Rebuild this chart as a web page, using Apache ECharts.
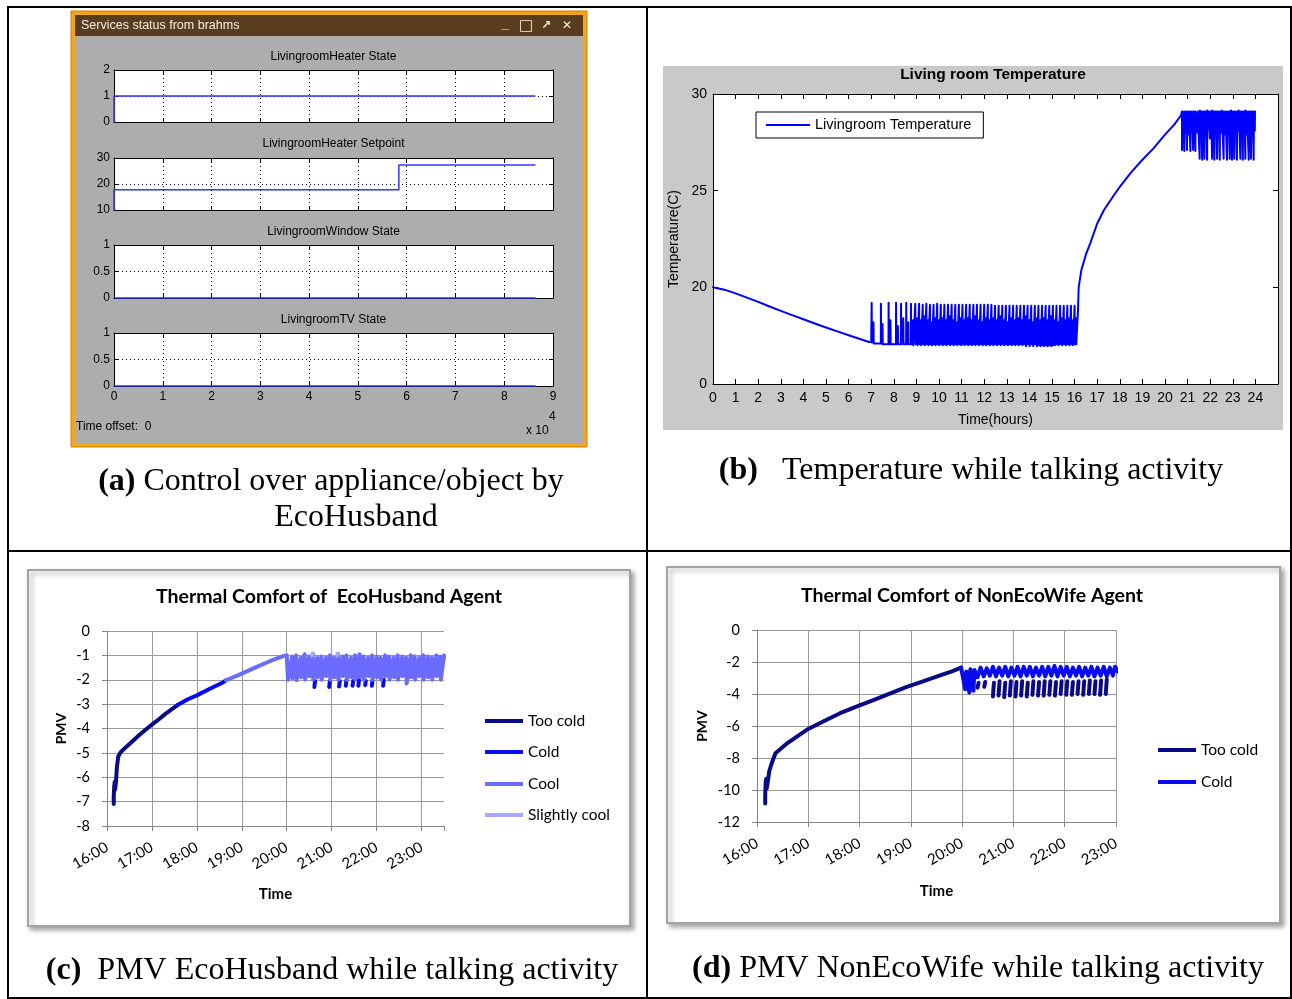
<!DOCTYPE html>
<html><head><meta charset="utf-8">
<script src="https://cdn.jsdelivr.net/npm/echarts@6/dist/echarts.min.js"></script>
<style>html,body{margin:0;padding:0;background:#fff}#c{width:1292px;height:999px}</style>
</head><body><div id="c"></div>
<script>
// ===================== DATA =====================
// (a) Services status from brahms  (x in units of 10^4 s)
const aTitles = ['LivingroomHeater State','LivingroomHeater Setpoint','LivingroomWindow State','LivingroomTV State'];
const aXTickLabels = ['0','1','2','3','4','5','6','7','8','9'];
const heaterState    = [[0,0],[0,1],[8.63,1]];
const heaterSetpoint = [[0,10],[0,17.8],[5.84,17.8],[5.84,27.3],[8.63,27.3]];
const windowState    = [[0,0],[8.63,0]];
const tvState        = [[0,0],[8.63,0]];

// (b) Living room Temperature (hours, deg C)
const bYTickLabels = ['0','20','25','30'];           // drawn at 15,20,25,30
const bDecline = [[0,20.0],[0.5,19.88],[1,19.69],[1.5,19.47],[2,19.25],[2.5,19.01],[3,18.78],[3.5,18.56],[4,18.35],[4.5,18.13],[5,17.92],[5.5,17.72],[6,17.52],[6.5,17.33],[6.9,17.17],[7.0,17.17]];
// [time, peak, trough] of the heating spikes 7h-16h
const bMidSpikes = [
[7.02,19.2,17.15],[7.1,18.2,17.1],[7.43,19.15,17.1],[7.5,18.1,17.05],[7.77,19.2,17.05],[7.85,18.3,17.05],[8.1,19.2,17.05],[8.18,18.0,17.05],[8.32,19.15,17.05],[8.42,18.4,17.05],[8.55,19.2,17.05],[8.64,18.2,17.05],[8.76,19.15,17.05],[8.85,18.3,17.0],[8.95,19.15,17.05],
[9.04,18.4,17.0],[9.12,19.15,17.05],[9.2,18.3,17.0],[9.28,19.1,17.05],[9.36,18.5,17.0],[9.44,19.15,17.05],[9.52,18.3,17.0],[9.6,19.1,17.05],[9.68,18.2,17.0],[9.76,19.1,17.05],[9.84,18.4,17.0],[9.92,19.15,17.05],[10.0,18.3,17.0],[10.08,19.1,17.05],[10.16,18.4,17.0],[10.24,19.1,17.05],[10.32,18.3,17.0],[10.4,19.1,17.05],[10.48,18.5,17.0],[10.56,19.1,17.05],[10.64,18.3,17.0],[10.72,19.1,17.05],[10.8,18.2,17.0],[10.88,19.1,17.05],[10.96,18.4,17.0],[11.04,19.1,17.05],[11.12,18.3,17.0],[11.2,19.1,17.05],[11.28,18.4,17.0],[11.36,19.1,17.05],[11.44,18.3,17.0],[11.52,19.1,17.05],[11.6,18.5,17.0],[11.68,19.1,17.05],[11.76,18.3,17.0],[11.84,19.1,17.05],[11.92,18.2,17.0],[12.0,19.1,17.05],[12.08,18.4,17.0],[12.16,19.1,17.05],[12.24,18.3,17.0],[12.32,19.1,17.05],[12.4,18.4,17.0],[12.48,19.05,17.05],[12.56,18.3,17.0],[12.64,19.05,17.05],[12.72,18.5,17.0],[12.8,19.05,17.05],[12.88,18.3,17.0],[12.96,19.05,17.05],[13.04,18.2,17.0],[13.12,19.05,17.05],[13.2,18.4,17.0],[13.28,19.05,17.05],[13.36,18.3,17.0],[13.44,19.05,17.05],[13.52,18.4,17.0],[13.6,19.05,17.05],[13.68,18.3,17.0],[13.76,19.05,17.05],[13.84,18.5,16.95],[13.92,19.05,17.05],[14.0,18.3,16.95],[14.08,19.05,17.05],[14.16,18.2,16.95],[14.24,19.05,17.05],[14.32,18.4,16.95],[14.4,19.05,17.0],[14.48,18.3,16.95],[14.56,19.05,17.0],[14.64,18.4,16.95],[14.72,19.05,17.0],[14.8,18.3,16.95],[14.88,19.05,17.0],[14.96,18.5,16.95],[15.04,19.05,17.0],[15.12,18.3,17.0],[15.2,19.05,17.05],[15.28,18.2,17.0],[15.36,19.05,17.05],[15.44,18.4,17.0],[15.52,19.05,17.05],[15.6,18.3,17.0],[15.68,19.05,17.05],[15.76,18.4,17.0],[15.84,19.05,17.05],[15.92,18.3,17.0],[16.0,19.05,17.05],[16.06,18.4,17.05]];
const bRise = [[16.12,17.1],[16.15,18.8],[16.18,20.0],[16.3,20.9],[16.5,21.7],[16.7,22.3],[17.0,23.3],[17.3,24.0],[17.7,24.7],[18.0,25.2],[18.5,25.95],[19.0,26.6],[19.5,27.2],[20.0,27.9],[20.4,28.4],[20.71,28.9]];
// [time, top, low] of the cooling dips 20.7h-24h
const bTopSpikes = [
[20.75,29.1,27.1],[20.8,29.05,27.9],[20.85,29.1,27.05],[20.91,29.1,28.0],[20.97,29.1,27.1],[21.05,29.1,27.9],[21.12,29.1,27.05],[21.18,29.1,28.1],[21.24,29.1,27.1],[21.29,29.1,27.8],[21.34,29.1,27.05],[21.44,29.1,28.0],[21.53,29.15,26.65],[21.59,29.1,27.9],[21.64,29.1,26.6],[21.69,29.1,28.1],[21.74,29.1,26.65],[21.8,29.1,27.8],[21.86,29.15,26.6],[21.92,29.1,28.2],[21.98,29.1,27.7],[22.03,29.1,28.0],[22.08,29.15,26.65],[22.13,29.1,27.9],[22.18,29.1,26.6],[22.24,29.1,28.1],[22.3,29.1,26.65],[22.36,29.1,27.8],[22.42,29.1,26.6],[22.5,29.15,28.0],[22.59,29.1,26.65],[22.66,29.1,27.9],[22.74,29.1,26.6],[22.8,29.1,28.1],[22.86,29.1,26.65],[22.91,29.15,27.8],[22.96,29.1,26.6],[23.01,29.1,28.0],[23.06,29.1,26.65],[23.12,29.1,27.9],[23.18,29.1,26.6],[23.25,29.15,28.1],[23.33,29.1,26.65],[23.39,29.1,27.8],[23.44,29.1,26.6],[23.5,29.1,28.0],[23.55,29.15,26.65],[23.62,29.1,27.9],[23.7,29.1,26.6],[23.75,29.1,28.1],[23.8,29.1,26.65],[23.86,29.1,27.8],[23.92,29.1,26.6],[23.97,29.1,28.1]];

// (c) / (d) shared time tick labels
const timeLabels = ['16:00','17:00','18:00','19:00','20:00','21:00','22:00','23:00'];

// (c) Thermal Comfort of EcoHusband Agent  (hours, PMV)
const cTooCold = [[16.15,-7.1],[16.15,-6.8],[16.16,-6.4],[16.17,-6.2],[16.18,-6.5],[16.19,-6.45],[16.2,-6.2],[16.22,-5.6],[16.25,-5.15],[16.3,-4.98],[16.4,-4.8],[16.55,-4.55],[16.7,-4.3],[16.89,-4.0],[17.1,-3.7],[17.3,-3.4],[17.56,-3.05]];
const cCold = [[17.56,-3.05],[17.8,-2.8],[18.0,-2.64],[18.3,-2.36],[18.59,-2.1],[18.65,-2.02]];
const cColdDashes = [[20.63,-2.05,-2.3],[20.96,-2.05,-2.3],[21.18,-2.05,-2.28],[21.33,-2.0,-2.25],[21.48,-2.05,-2.25],[21.61,-2.0,-2.25],[21.76,-2.05,-2.22],[21.91,-2.0,-2.25],[22.16,-2.0,-2.25]];
const cCool = [[18.65,-2.02],[19.0,-1.75],[19.33,-1.47],[19.65,-1.22],[19.92,-1.03],[20.0,-1.0]];
// [time, top, bottom] of the sawtooth after 20:00
const cCoolOsc = [[20.02,-1.0,-2.0],[20.12,-1.05,-1.95],[20.21,-1.0,-2.02],[20.31,-1.1,-1.9],[20.4,-0.95,-2.0],[20.5,-1.05,-1.85],[20.58,-0.93,-2.0],[20.68,-1.1,-1.9],[20.77,-1.05,-2.0],[20.87,-1.1,-1.85],[20.96,-1.0,-2.0],[21.05,-1.1,-1.9],[21.14,-0.93,-2.0],[21.24,-1.05,-1.85],[21.33,-1.0,-2.0],[21.43,-1.1,-1.9],[21.52,-1.0,-2.0],[21.62,-0.95,-1.9],[21.71,-1.05,-2.0],[21.81,-1.1,-1.85],[21.9,-1.0,-2.0],[22.0,-1.05,-1.9],[22.09,-1.1,-2.0],[22.19,-1.0,-1.85],[22.28,-1.05,-2.0],[22.38,-1.1,-1.9],[22.47,-1.0,-2.0],[22.57,-1.05,-1.85],[22.66,-1.1,-2.15],[22.76,-1.0,-1.9],[22.85,-1.05,-2.0],[22.95,-1.1,-1.85],[23.04,-1.0,-2.0],[23.14,-1.05,-1.9],[23.23,-1.1,-2.0],[23.33,-1.0,-1.85],[23.42,-1.05,-2.0],[23.5,-1.0,-1.1]];
const cSlightlyCool = [[20.56,-1.0],[20.58,-0.93],[20.6,-1.0],[21.12,-1.0],[21.14,-0.93],[21.16,-1.0]];

// (d) Thermal Comfort of NonEcoWife Agent
const dTooCold = [[16.16,-10.85],[16.16,-10.3],[16.17,-9.5],[16.18,-9.3],[16.19,-9.9],[16.2,-9.8],[16.21,-9.5],[16.24,-8.8],[16.29,-8.3],[16.36,-7.7],[16.6,-7.05],[16.97,-6.24],[17.3,-5.7],[17.62,-5.2],[17.95,-4.78],[18.27,-4.38],[18.6,-3.96],[18.92,-3.55],[19.25,-3.2],[19.57,-2.83],[19.8,-2.58],[19.98,-2.35]];
// [time, top, bottom] of the lower dashes
const dTooColdDashes = [[20.32,-3.3,-3.6],[20.45,-3.25,-3.55],[20.62,-3.3,-4.15],[20.73,-3.2,-4.1],[20.84,-3.3,-4.2],[20.95,-3.2,-4.1],[21.06,-3.25,-4.15],[21.17,-3.2,-4.1],[21.28,-3.3,-4.15],[21.39,-3.2,-4.05],[21.5,-3.25,-4.1],[21.61,-3.2,-4.1],[21.72,-3.2,-4.05],[21.83,-3.25,-4.1],[21.94,-3.2,-4.0],[22.05,-3.2,-4.05],[22.16,-3.25,-4.05],[22.27,-3.2,-4.0],[22.38,-3.2,-4.05],[22.49,-3.15,-4.0],[22.6,-3.2,-4.0],[22.71,-3.15,-4.05],[22.82,-3.1,-4.0]];
// [time, peak, trough] of the upper oscillation
const dColdOsc = [[20.0,-2.35,-3.7],[20.08,-2.6,-3.9],[20.16,-2.45,-3.8],[20.24,-2.5,-2.95],[20.36,-2.35,-2.9],[20.48,-2.4,-2.85],[20.6,-2.3,-2.9],[20.72,-2.35,-2.85],[20.84,-2.3,-2.9],[20.96,-2.35,-2.85],[21.08,-2.3,-2.9],[21.2,-2.3,-2.85],[21.32,-2.3,-2.9],[21.44,-2.35,-2.85],[21.56,-2.3,-2.9],[21.68,-2.3,-2.85],[21.8,-2.25,-2.9],[21.92,-2.3,-2.85],[22.04,-2.3,-2.9],[22.16,-2.35,-2.85],[22.28,-2.3,-2.9],[22.4,-2.35,-2.85],[22.52,-2.3,-2.9],[22.64,-2.35,-2.85],[22.76,-2.3,-2.9],[22.88,-2.35,-2.85],[22.98,-2.3,-2.6]];

// ===================== BUILD =====================
const SANS = '"Liberation Sans", Arial, sans-serif';
const SERIF = '"Liberation Serif", "Times New Roman", serif';
const XL = 'Lato, "Open Sans", sans-serif';
const GAP = '-';

const bData = bDecline.slice();
let prevLo = bDecline[bDecline.length-1][1];
bMidSpikes.forEach(([t,hi,lo]) => { bData.push([t-0.004, prevLo],[t, hi],[t+0.012, lo]); prevLo = lo; });
bRise.forEach(p => bData.push(p));
bTopSpikes.forEach(([t,top,low]) => { bData.push([t, top],[t+0.004, low],[t+0.012, top]); });

const cColdData = cCold.slice(); cColdData.push([18.66, GAP]);
cColdDashes.forEach(([t,a,b]) => { cColdData.push([t,a],[t-0.015,b],[t,GAP]); });
const cCoolData = cCool.slice();
cCoolOsc.forEach(([t,a,b]) => { cCoolData.push([t,a],[t+0.008,b]); });
const cSlightData = [];
for (let i=0;i<cSlightlyCool.length;i+=3){ cSlightData.push(cSlightlyCool[i],cSlightlyCool[i+1],cSlightlyCool[i+2],[cSlightlyCool[i+2][0],GAP]); }

const dTooData = dTooCold.slice(); dTooData.push([19.99, GAP]);
dTooColdDashes.forEach(([t,a,b]) => { dTooData.push([t,a],[t-0.02,b],[t,GAP]); });
const dColdData = [[19.98,-2.35]];
dColdOsc.forEach(([t,a,b]) => { dColdData.push([t,a],[t+0.06,b]); });

// ---------- grids ----------
const grids = [
  {left:114, top:70,  width:439, height:52},
  {left:114, top:158, width:439, height:52},
  {left:114, top:245, width:439, height:53},
  {left:114, top:333, width:439, height:53},
  {left:713, top:94,  width:565, height:290},
  {left:107, top:631, width:337, height:195},
  {left:757, top:630, width:359, height:192}
].map((g,i)=>Object.assign(g,{containLabel:false, outerBoundsMode:'none', show:i<5, backgroundColor:'#fff', borderWidth:0}));

const xAxes = [], yAxes = [];
const aY = [{min:0,max:2,interval:1},{min:10,max:30,interval:10},{min:0,max:1,interval:0.5},{min:0,max:1,interval:0.5}];
const blackLine = {show:true, onZero:false, lineStyle:{color:'#000', width:1}};
const dotted = {color:'#000', width:1, type:[1,3]};
for (let i=0;i<4;i++){
  xAxes.push({type:'value', gridIndex:i, position:'bottom', min:0, max:9, interval:1, axisLine:blackLine,
    axisTick:{show:true, inside:true, length:4, lineStyle:{color:'#000'}},
    axisLabel:{show:i===3, color:'#000', fontFamily:SANS, fontSize:12, margin:5, formatter:v=>aXTickLabels[Math.round(v)]},
    splitLine:{show:true, showMinLine:false, showMaxLine:false, lineStyle:dotted}});
  xAxes.push({type:'value', gridIndex:i, position:'top', min:0, max:9, interval:1, axisLine:blackLine,
    axisTick:{show:true, inside:true, length:4, lineStyle:{color:'#000'}}, axisLabel:{show:false}, splitLine:{show:false}});
  yAxes.push(Object.assign({type:'value', gridIndex:i, position:'left', axisLine:blackLine,
    axisTick:{show:true, inside:true, length:4, lineStyle:{color:'#000'}},
    axisLabel:{show:true, color:'#000', fontFamily:SANS, fontSize:12, margin:4},
    splitLine:{show:true, showMinLine:false, showMaxLine:false, lineStyle:dotted}}, aY[i]));
  yAxes.push(Object.assign({type:'value', gridIndex:i, position:'right', axisLine:blackLine,
    axisTick:{show:true, inside:true, length:4, lineStyle:{color:'#000'}}, axisLabel:{show:false}, splitLine:{show:false}}, aY[i]));
}
// (b) axes: x 8 bottom, 9 top ; y 8 left, 9 right
xAxes.push({type:'value', gridIndex:4, position:'bottom', min:0, max:25, interval:1, axisLine:blackLine,
  axisTick:{show:true, inside:true, length:5, lineStyle:{color:'#000'}},
  axisLabel:{color:'#000', fontFamily:SANS, fontSize:14, margin:7, showMaxLabel:true, formatter:v=>v<=24?String(v):''},
  splitLine:{show:false}, name:'Time(hours)', nameLocation:'middle', nameGap:29,
  nameTextStyle:{color:'#000', fontFamily:SANS, fontSize:14}});
xAxes.push({type:'value', gridIndex:4, position:'top', min:0, max:25, interval:1, axisLine:blackLine,
  axisTick:{show:true, inside:true, length:5, lineStyle:{color:'#000'}}, axisLabel:{show:false}, splitLine:{show:false}});
yAxes.push({type:'value', gridIndex:4, position:'left', min:15, max:30, interval:5, axisLine:blackLine,
  axisTick:{show:true, inside:true, length:5, lineStyle:{color:'#000'}},
  axisLabel:{color:'#000', fontFamily:SANS, fontSize:14, margin:6, formatter:v=>bYTickLabels[Math.round((v-15)/5)]},
  splitLine:{show:false}, name:'Temperature(C)', nameLocation:'middle', nameGap:32,
  nameTextStyle:{color:'#000', fontFamily:SANS, fontSize:14}});
yAxes.push({type:'value', gridIndex:4, position:'right', min:15, max:30, interval:5, axisLine:blackLine,
  axisTick:{show:true, inside:true, length:5, lineStyle:{color:'#000'}}, axisLabel:{show:false}, splitLine:{show:false}});
// (c) & (d) Excel style axes
const xlGrid = {color:'#9a9a9a', width:1};
const xlAxisLine = {show:true, onZero:false, lineStyle:{color:'#868686', width:1}};
function xlX(gi, max, gap){
  return {type:'value', gridIndex:gi, position:'bottom', min:16, max:max, interval:1, axisLine:xlAxisLine,
    axisTick:{show:true, inside:false, length:5, lineStyle:{color:'#868686'}},
    axisLabel:{color:'#000', fontFamily:XL, fontSize:15, margin:20, rotate:30, showMaxLabel:true,
      formatter:v=>Number.isInteger(v)?timeLabels[v-16]:''},
    splitLine:{show:true, showMinLine:false, showMaxLine:max===23, lineStyle:xlGrid},
    name:'Time', nameLocation:'middle', nameGap:gap, nameTextStyle:{color:'#000', fontFamily:XL, fontSize:15, fontWeight:'bold'}};
}
function xlY(gi, min, interval, gap){
  return {type:'value', gridIndex:gi, position:'left', min:min, max:0, interval:interval, axisLine:xlAxisLine,
    axisTick:{show:true, inside:false, length:5, lineStyle:{color:'#868686'}},
    axisLabel:{color:'#000', fontFamily:XL, fontSize:14.5, margin:17},
    splitLine:{show:true, lineStyle:xlGrid},
    name:'PMV', nameLocation:'middle', nameGap:gap, nameTextStyle:{color:'#000', fontFamily:XL, fontSize:14, fontWeight:'bold'}};
}
xAxes.push(xlX(5, 23.5, 61)); yAxes.push(xlY(5, -8, 1, 39));
xAxes.push(xlX(6, 23, 62));   yAxes.push(xlY(6, -12, 2, 48));

// ---------- series ----------
const C_TOO='#0a0a85', C_COLD='#0a0aee', C_COOL='#6b6bff', C_SLIGHT='#a9a9ff';
function ln(name, data, xi, yi, color, width){
  return {type:'line', name, data, xAxisIndex:xi, yAxisIndex:yi, symbol:'none', showSymbol:false, animation:false,
    color, itemStyle:{color}, lineStyle:{color, width, cap:'round', join:'round'}, connectNulls:false, silent:true};
}
const series = [
  ln('Heater State', heaterState, 0, 0, '#3535ff', 1.5),
  ln('Heater Setpoint', heaterSetpoint, 2, 2, '#3535ff', 1.5),
  ln('Window State', windowState, 4, 4, '#3535ff', 1.5),
  ln('TV State', tvState, 6, 6, '#3535ff', 1.5),
  ln('Livingroom Temperature', bData, 8, 8, '#0000ff', 2),
  ln('Too cold', cTooCold, 10, 10, C_TOO, 4),
  ln('Cold', cColdData, 10, 10, C_COLD, 4),
  ln('Cool', cCoolData, 10, 10, C_COOL, 4),
  ln('Slightly cool', cSlightData, 10, 10, C_SLIGHT, 4),
  ln('Too cold', dTooData, 11, 11, C_TOO, 4),
  ln('Cold', dColdData, 11, 11, C_COLD, 4)
];

// ---------- legends ----------
function lg(name, left, top, w, h, extra){
  return Object.assign({data:[name], left, top, orient:'horizontal', icon:'rect', itemWidth:w, itemHeight:h, padding:0,
    selectedMode:false, textStyle:{color:'#000', fontFamily:XL, fontSize:15.5, lineHeight:18}}, extra||{});
}
const legends = [
  lg('Livingroom Temperature', 756, 112, 44, 2, {padding:[4,12,4,10], borderColor:'#000', borderWidth:1, backgroundColor:'#fff',
     textStyle:{color:'#000', fontFamily:SANS, fontSize:14.5, lineHeight:18}}),
  lg('Too cold', 485, 712, 38, 4), lg('Cold', 485, 743, 38, 4), lg('Cool', 485, 775, 38, 4), lg('Slightly cool', 485, 806, 38, 4),
  lg('Too cold', 1158, 741, 38, 4), lg('Cold', 1158, 773, 38, 4)
];

// ---------- graphic (frames, titles, captions) ----------
const G = [];
function txt(t, x, y, o){ return {type:'text', z:10, style:Object.assign({text:t, x, y, fill:'#000', fontFamily:SANS, fontSize:12,
  textAlign:'left', align:'left', textVerticalAlign:'middle', verticalAlign:'middle'}, o||{})}; }
const ctr = {textAlign:'center', align:'center'};
// table lines
G.push({type:'rect', z:-10, shape:{x:8,y:7,width:1283,height:991}, style:{fill:'none', stroke:'#000', lineWidth:2}});
G.push({type:'line', z:-10, shape:{x1:647,y1:7,x2:647,y2:998}, style:{stroke:'#000', lineWidth:2}});
G.push({type:'line', z:-10, shape:{x1:8,y1:551,x2:1291,y2:551}, style:{stroke:'#000', lineWidth:2}});
// (a) window
G.push({type:'rect', z:-10, shape:{x:71,y:11,width:516,height:436}, style:{fill:'#f3a51d', stroke:'#c98300', lineWidth:1}});
G.push({type:'rect', z:-9, shape:{x:75,y:15,width:508,height:428}, style:{fill:'#adadad'}});
G.push({type:'rect', z:-9, shape:{x:75,y:15,width:508,height:21}, style:{fill:'#5a3c1f'}});
G.push(txt('Services status from brahms', 81, 26, {fill:'#f2f0e6', fontSize:12.5}));
G.push(txt('_', 505, 24, Object.assign({fill:'#f2f0e6', fontSize:13, fontWeight:'bold'}, ctr)));
G.push(txt('□', 526, 26, Object.assign({fill:'#f2f0e6', fontSize:15, fontFamily:'"DejaVu Sans"'}, ctr)));
G.push(txt('↗', 546, 26, Object.assign({fill:'#f2f0e6', fontSize:12, fontWeight:'bold', fontFamily:'"DejaVu Sans"'}, ctr)));
G.push(txt('✕', 567, 26, Object.assign({fill:'#f2f0e6', fontSize:12, fontWeight:'bold', fontFamily:'"DejaVu Sans"'}, ctr)));
[57,144,232,320].forEach((y,i)=>G.push(txt(aTitles[i], 333.5, y, ctr)));
G.push(txt('Time offset:  0', 76, 427));
G.push(txt('x 10', 526, 431));
G.push(txt('4', 549, 417));
// (b) background and title
G.push({type:'rect', z:-10, shape:{x:663,y:66,width:620,height:364}, style:{fill:'#c9c9c9'}});
G.push(txt('Living room Temperature', 993, 75, Object.assign({fontSize:15.5, fontWeight:'bold'}, ctr)));
// (c),(d) Excel chart frames
const shadow = {shadowBlur:5, shadowColor:'rgba(0,0,0,0.35)', shadowOffsetX:3, shadowOffsetY:3};
G.push({type:'rect', z:-9, shape:{x:28,y:570,width:602,height:356}, style:Object.assign({fill:'#fff', stroke:'#a3a3a3', lineWidth:2}, shadow)});
G.push({type:'rect', z:-9, shape:{x:667,y:567,width:613,height:356}, style:Object.assign({fill:'#fff', stroke:'#a3a3a3', lineWidth:2}, shadow)});
G.push(txt('Thermal Comfort of  EcoHusband Agent', 329, 597, Object.assign({fontFamily:XL, fontSize:19.5, fontWeight:'bold'}, ctr)));
G.push(txt('Thermal Comfort of NonEcoWife Agent', 972, 596, Object.assign({fontFamily:XL, fontSize:19.5, fontWeight:'bold'}, ctr)));
// captions
function cap(t, x, y){ return txt(t, x, y, {fontFamily:SERIF, fontSize:32, textAlign:'center', align:'center',
  rich:{b:{fontFamily:SERIF, fontSize:32, fontWeight:'bold', fill:'#000'}}}); }
G.push(cap('{b|(a)} Control over appliance/object by', 331, 482));
G.push(cap('EcoHusband', 356, 518));
G.push(cap('{b|(b)}   Temperature while talking activity', 971, 471));
G.push(cap('{b|(c)}  PMV EcoHusband while talking activity', 332, 971));
G.push(cap('{b|(d)} PMV NonEcoWife while talking activity', 978, 969));

const chart = echarts.init(document.getElementById('c'), null, {renderer:'canvas', width:1292, height:999});
chart.setOption({
  animation:false,
  backgroundColor:'#fff',
  textStyle:{fontFamily:SANS},
  grid:grids, xAxis:xAxes, yAxis:yAxes, series, legend:legends, graphic:G
});
</script></body></html>
